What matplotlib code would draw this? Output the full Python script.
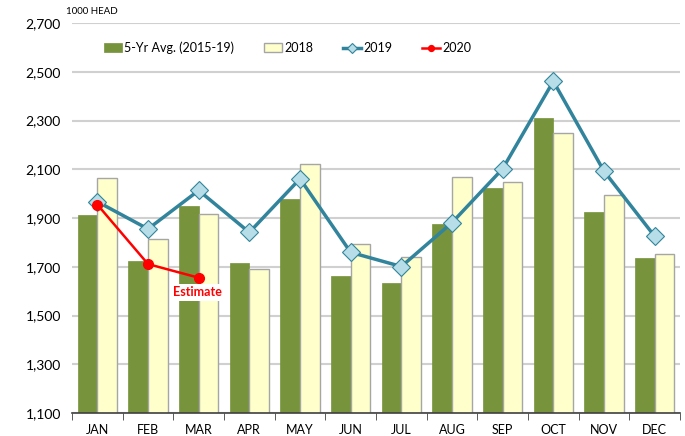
import matplotlib
matplotlib.use("Agg")
import matplotlib.pyplot as plt
import numpy as np

months = ["JAN", "FEB", "MAR", "APR", "MAY", "JUN", "JUL", "AUG", "SEP", "OCT", "NOV", "DEC"]
avg_5yr = [1913, 1723, 1948, 1715, 1979, 1663, 1633, 1874, 2025, 2310, 1923, 1734]
y2018 = [2065, 1814, 1917, 1692, 2121, 1793, 1738, 2068, 2048, 2247, 1995, 1753]
y2019 = [1967, 1855, 2013, 1841, 2061, 1759, 1701, 1881, 2102, 2461, 2092, 1825]
y2020 = [1955, 1711, 1655]
yticks = [1100, 1300, 1500, 1700, 1900, 2100, 2300, 2500, 2700]

plt.rcParams['font.family'] = ['Lato', 'DejaVu Sans']

fig = plt.figure(figsize=(6.85, 4.36), dpi=100)
ax = fig.add_axes([72/685, 23/436, 608/685, 390/436])

x = np.arange(len(months))
w = 0.39
b1 = ax.bar(x - w/2, avg_5yr, width=w, color="#77933C", edgecolor="#77933C", linewidth=0.5,
            label="5-Yr Avg. (2015-19)", zorder=2)
b2 = ax.bar(x + w/2, y2018, width=w, color="#FFFFCC", edgecolor="#A6A6A6", linewidth=1.0,
            label="2018", zorder=2)
l1, = ax.plot(x, y2019, color="#31849B", linewidth=2.5, marker="D", markersize=9,
              markerfacecolor="#B7DEE8", markeredgecolor="#31849B", markeredgewidth=0.8,
              label="2019", zorder=4)
l2, = ax.plot(x[:len(y2020)], y2020, color="#FF0000", linewidth=1.8, marker="o", markersize=7,
              markerfacecolor="#FF0000", markeredgecolor="#FF0000", label="2020", zorder=5)

ax.text(1.98, 1595, "Estimate", color="#FF0000", fontsize=9, fontweight="bold",
        ha="center", va="center", zorder=6,
        bbox=dict(facecolor="white", edgecolor="none", pad=2))

ax.set_xlim(-0.5, 11.5)
ax.set_ylim(1100, 2700)
ax.set_yticks(yticks)
ax.set_yticklabels([f"{v:,}" for v in yticks], fontsize=10)
ax.set_xticks(x)
ax.set_xticklabels(months, fontsize=9)
ax.set_xticks(np.arange(-0.5, 12, 1), minor=True)
ax.tick_params(axis="x", which="major", length=0, pad=8)
ax.tick_params(axis="x", which="minor", length=5, color="#404040")
ax.tick_params(axis="y", length=0, pad=8)

ax.grid(axis="y", color="#D0D0D0", linewidth=1.5, zorder=0)
ax.set_axisbelow(True)
for s in ["top", "right", "left"]:
    ax.spines[s].set_visible(False)
ax.spines["bottom"].set_color("#404040")
ax.spines["bottom"].set_linewidth(1.2)

ax.text(-0.01, 1.03, "1000 HEAD", transform=ax.transAxes, fontsize=7, ha="left", va="center")

leg = ax.legend([b1, b2, l1, l2], ["5-Yr Avg. (2015-19)", "2018", "2019", "2020"],
                loc="center", bbox_to_anchor=(0.355, 0.936), ncol=4, frameon=False,
                fontsize=9, handlelength=1.4, handletextpad=0.2, columnspacing=2.4,
                markerscale=0.6)

fig.savefig("out.png", dpi=100)
